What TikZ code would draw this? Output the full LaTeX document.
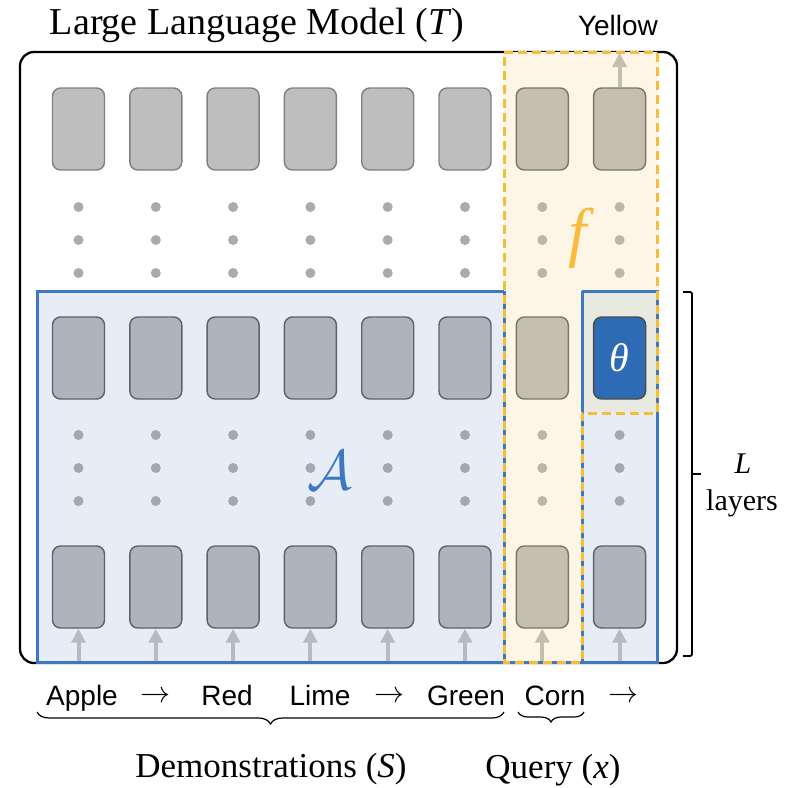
\documentclass[tikz,border=0pt]{standalone}
\usepackage{fontspec}
\setmainfont{Liberation Serif}
\setsansfont{Liberation Sans}
\usetikzlibrary{arrows.meta,decorations.pathreplacing}
\definecolor{topgray}{HTML}{BEBEBE}
\definecolor{topgrayd}{HTML}{808080}
\definecolor{bgray}{HTML}{AEB4BB}
\definecolor{bgrayd}{HTML}{5E6369}
\definecolor{tanc}{HTML}{C5BFAF}
\definecolor{tand}{HTML}{7B7565}
\definecolor{thetac}{HTML}{2D6BB5}
\definecolor{blueline}{HTML}{3C79C2}
\definecolor{bluefill}{HTML}{E6EDF6}
\definecolor{yelfill}{HTML}{FDF6E7}
\definecolor{yeldash}{HTML}{F6BC3A}
\definecolor{thetacell}{HTML}{E8E9E1}
\definecolor{dotgray}{HTML}{ABABAB}
\definecolor{dotblue}{HTML}{A3A8AE}
\definecolor{dottan}{HTML}{BCB6A6}
\definecolor{arrgray}{HTML}{B7BBC0}
\definecolor{arrtan}{HTML}{C4BEAF}
\begin{document}
\begin{tikzpicture}[x=1pt,y=-1pt,
  blk/.style={draw, rounded corners=8pt, minimum width=52pt, minimum height=82pt, line width=1.4pt, inner sep=0pt},
  gbox/.style={blk, fill=topgray, draw=topgrayd},
  bbox/.style={blk, fill=bgray, draw=bgrayd},
  tbox/.style={blk, fill=tanc, draw=tand},
  thbox/.style={blk, fill=thetac, draw=black!70, text=white, font=\fontsize{40}{42}\selectfont\itshape},
  dotn/.style={circle, inner sep=0pt, minimum size=10pt},
  uparr/.style={line width=4pt, -{Triangle[width=14pt,length=14pt]}},
  lab/.style={font=\sffamily\fontsize{28}{30}\selectfont, inner sep=0pt, anchor=base},
  arr/.style={inner sep=0pt},
  serif/.style={font=\fontsize{35}{38}\selectfont, inner sep=0pt, anchor=base},
  bracestyle/.style={decorate, decoration={brace, mirror, amplitude=12pt}, line width=1.2pt},
  bl/.style={blueline, line width=3pt}
]
\useasboundingbox (0,0) rectangle (805,787);

% outer model box
\draw[line width=2.3pt, rounded corners=14pt, fill=white] (20,52) rectangle (677,663);

% regions
\fill[bluefill] (37,291) rectangle (657,662);
\draw[bl] (37,291) rectangle (657,662);
\fill[yelfill] (504,52) -- (657,52) -- (657,413) -- (582,413) -- (582,662) -- (504,662) -- cycle;
\fill[thetacell] (582,291) rectangle (657,413);
\draw[bl] (582,291) -- (657,291);
\draw[bl] (504,291) -- (504,662);
\draw[bl] (582,291) -- (582,662);
\draw[bl] (657,291) -- (657,662);
\draw[bl] (504,662) -- (582,662);
\draw[yeldash, line width=3pt, dash pattern=on 9pt off 5pt]
  (504,52) -- (657,52) -- (657,413) -- (582,413) -- (582,662) -- (504,662) -- cycle;

% boxes
\foreach \i in {1,...,8}{
  \pgfmathsetmacro{\xx}{78.5+77.3*(\i-1)}
  \ifnum\i<7
    \node[gbox] (t\i) at (\xx,129) {};
    \node[bbox] (m\i) at (\xx,358) {};
    \node[bbox] (b\i) at (\xx,587) {};
    \foreach \yy in {207,240,273}{\node[dotn, fill=dotgray] at (\xx,\yy) {};}
    \foreach \yy in {435,468,501}{\node[dotn, fill=dotblue] at (\xx,\yy) {};}
    \coordinate (in\i) at (\xx,661);
    \draw[uparr, arrgray] (in\i) -- (b\i.south);
  \fi
}
\pgfmathsetmacro{\xs}{78.5+77.3*6}
\pgfmathsetmacro{\xe}{78.5+77.3*7}
\node[tbox] (t7) at (\xs,129) {};
\node[tbox] (m7) at (\xs,358) {};
\node[tbox] (b7) at (\xs,587) {};
\node[tbox] (t8) at (\xe,129) {};
\node[thbox] (m8) at (\xe,358) {θ};
\node[bbox] (b8) at (\xe,587) {};
\foreach \yy in {207,240,273}{
  \node[dotn, fill=dottan] at (\xs,\yy) {};
  \node[dotn, fill=dottan] at (\xe,\yy) {};}
\foreach \yy in {435,468,501}{
  \node[dotn, fill=dottan] at (\xs,\yy) {};
  \node[dotn, fill=dotblue] at (\xe,\yy) {};}
\coordinate (in7) at (\xs,661);
\coordinate (in8) at (\xe,661);
\coordinate (out8) at (\xe,53);
\draw[uparr, arrtan] (in7) -- (b7.south);
\draw[uparr, arrgray] (in8) -- (b8.south);
\draw[uparr, arrtan] (t8.north) -- (out8);

% region letters
\node[text=yeldash, font=\fontsize{66}{68}\selectfont\itshape, inner sep=0pt] (fsym) at (578,238) {f};
\node[text=blueline, inner sep=0pt] (Asym) at (330,470) {\scalebox{5.6}{$\mathcal{A}$}};

% titles
\node[font=\fontsize{38}{40}\selectfont, inner sep=0pt, anchor=base] (title) at (257,34) {Large Language Model (\textit{T})};
\node[lab] (yellow) at (618,35) {Yellow};

% input labels
\node[lab] (apple) at (82,705) {Apple};
\node[arr] (ar1) at (155,697) {\scalebox{3}{$\rightarrow$}};
\node[lab] (red) at (227,705) {Red};
\node[lab] (lime) at (320,705) {Lime};
\node[arr] (ar2) at (389,697) {\scalebox{3}{$\rightarrow$}};
\node[lab] (green) at (466,705) {Green};
\node[lab] (corn) at (555,705) {Corn};
\node[arr] (ar3) at (623,697) {\scalebox{3}{$\rightarrow$}};

% braces
\coordinate (d1) at (37,712);
\coordinate (d2) at (504,712);
\coordinate (q1) at (518,712);
\coordinate (q2) at (584,712);
\draw[bracestyle] (d1) -- (d2);
\draw[bracestyle, decoration={brace, mirror, amplitude=10pt}] (q1) -- (q2);
\node[serif] (demo) at (271,777) {Demonstrations (\textit{S})};
\node[serif] (query) at (553,778) {Query (\textit{x})};

% layer bracket
\coordinate (lb1) at (683,292);
\coordinate (lb2) at (683,656);
\coordinate (lbt) at (701,474);
\draw[line width=1.8pt, rounded corners=2pt] (lb1) -- (692,292) -- (692,656) -- (lb2);
\draw[line width=1.8pt] (692,474) -- (lbt);
\node[serif, font=\fontsize{30}{32}\selectfont\itshape] (Lsym) at (743,473) {L};
\node[serif, font=\fontsize{30}{32}\selectfont] (layers) at (742,510) {layers};
\end{tikzpicture}
\end{document}
